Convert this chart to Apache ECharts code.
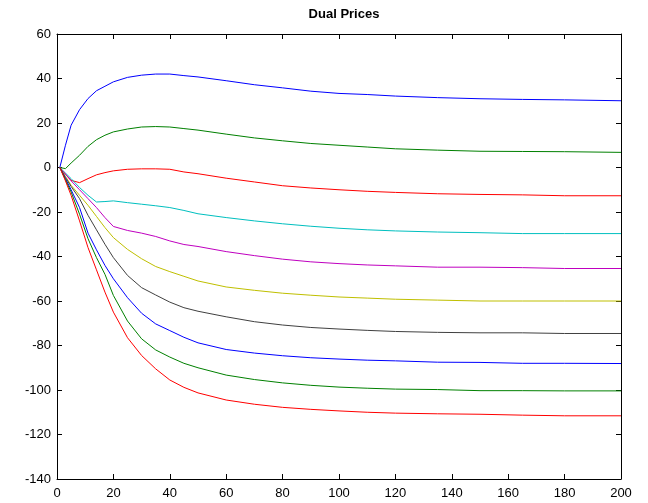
<!DOCTYPE html>
<html>
<head>
<meta charset="utf-8">
<script src="https://cdn.jsdelivr.net/npm/echarts@6/dist/echarts.min.js"></script>
<style>
  html, body { margin: 0; padding: 0; background: #fff; }
  #chart { width: 648px; height: 503px; }
</style>
</head>
<body>
<div id="chart"></div>
<script>
// iteration index (x)
const xs = [1, 3, 5, 8, 11, 14, 17, 20, 25, 30, 35, 40, 45, 50, 60, 70, 80, 90, 100, 110, 120, 135, 150, 165, 180, 200]

// dual price curves, top to bottom
const blue1 = [0, 10, 19, 26, 31, 34.5, 36.5, 38.5, 40.5, 41.5, 42, 42, 41.3, 40.7, 39, 37.2, 35.8, 34.3, 33.3, 32.8, 32.1, 31.4, 30.9, 30.6, 30.4, 30]
const green1 = [0, -0.5, 2, 5.5, 9.5, 12.5, 14.5, 16, 17.3, 18.2, 18.4, 18.2, 17.5, 16.8, 15, 13.3, 12, 10.8, 10, 9.2, 8.4, 7.8, 7.3, 7.2, 7.1, 6.8]
const red1 = [0, -3, -5.8, -6.8, -5, -3.3, -2.3, -1.5, -0.8, -0.6, -0.6, -0.8, -2, -2.8, -4.8, -6.5, -8.2, -9.2, -10, -10.7, -11.2, -11.8, -12.1, -12.3, -12.7, -12.7]
const cyan = [0, -2.5, -5, -9, -12.5, -15.5, -15.3, -15, -15.8, -16.5, -17.2, -18, -19.3, -20.8, -22.5, -24, -25.3, -26.4, -27.3, -28, -28.5, -29, -29.3, -29.7, -29.7, -29.7]
const magenta = [0, -3, -6, -10, -14, -18, -22.5, -26.5, -28.3, -29.5, -31, -33, -34.6, -35.5, -37.8, -39.6, -41.2, -42.4, -43.2, -43.8, -44.2, -44.8, -44.8, -45, -45.4, -45.4]
const yellow = [0, -4, -8, -12.5, -17, -22, -27, -31.5, -36.8, -41, -44.5, -46.8, -48.9, -51, -53.7, -55.2, -56.5, -57.4, -58.2, -58.7, -59.2, -59.6, -60, -60, -60, -60]
const gray = [0, -4.5, -8.5, -14, -21.5, -28, -34.5, -40.5, -48.5, -54, -57.3, -60.5, -63, -64.6, -67.1, -69.3, -70.8, -71.9, -72.6, -73.2, -73.7, -74.1, -74.3, -74.3, -74.6, -74.6]
const blue2 = [0, -5, -10, -18, -29.5, -37, -44, -50, -58.5, -65.5, -70.3, -73.3, -76.3, -78.8, -81.8, -83.4, -84.6, -85.5, -86.1, -86.6, -86.9, -87.5, -87.6, -88, -88, -88.1]
const green2 = [0, -5.5, -11, -21, -32, -40.5, -48, -57.5, -69, -77, -82, -85.2, -88, -90, -93.3, -95.3, -96.8, -97.9, -98.7, -99.2, -99.6, -99.8, -100.3, -100.3, -100.4, -100.4]
const red2 = [0, -6, -12.5, -24, -36, -46, -56, -65, -76.5, -84.5, -90.5, -95.5, -98.8, -101.3, -104.5, -106.4, -107.8, -108.7, -109.4, -110, -110.4, -110.7, -110.9, -111.3, -111.6, -111.6]

const curves = [blue1, green1, red1, cyan, magenta, yellow, gray, blue2, green2, red2]
const colors = ['#0000ff', '#008000', '#ff0000', '#00bfbf', '#bf00bf', '#bfbf00', '#404040', '#0000ff', '#008000', '#ff0000']

const font = 'Liberation Sans, Arial, sans-serif'

const axisCommon = {
  axisLine: { show: true, onZero: false, lineStyle: { color: '#000', width: 1 } },
  axisTick: { show: true, inside: true, length: 5, lineStyle: { color: '#000' } },
  splitLine: { show: false }
}

let option = {
  animation: false,
  backgroundColor: '#fff',
  title: {
    text: 'Dual Prices',
    left: 339,
    top: 3,
    textAlign: 'center',
    textStyle: { fontFamily: font, fontSize: 13, fontWeight: 'bold', color: '#000' }
  },
  grid: { left: 57, right: 27, top: 34, bottom: 24 },
  xAxis: [
    {
      type: 'value', min: 0, max: 200, interval: 20, position: 'bottom',
      ...axisCommon,
      axisLabel: { color: '#000', fontFamily: font, fontSize: 13, margin: 8 }
    },
    {
      type: 'value', min: 0, max: 200, interval: 20, position: 'top',
      ...axisCommon,
      axisLabel: { show: false }
    }
  ],
  yAxis: [
    {
      type: 'value', min: -140, max: 60, interval: 20, position: 'left',
      ...axisCommon,
      axisLabel: { color: '#000', fontFamily: font, fontSize: 13, margin: 6 }
    },
    {
      type: 'value', min: -140, max: 60, interval: 20, position: 'right',
      ...axisCommon,
      axisLabel: { show: false }
    }
  ],
  series: curves.map((c, i) => ({
    type: 'line',
    data: xs.map((x, j) => [x, c[j]]),
    showSymbol: false,
    lineStyle: { color: colors[i], width: 1 },
    itemStyle: { color: colors[i] }
  }))
}

const chart = echarts.init(document.getElementById('chart'))
chart.setOption(option)
</script>
</body>
</html>
